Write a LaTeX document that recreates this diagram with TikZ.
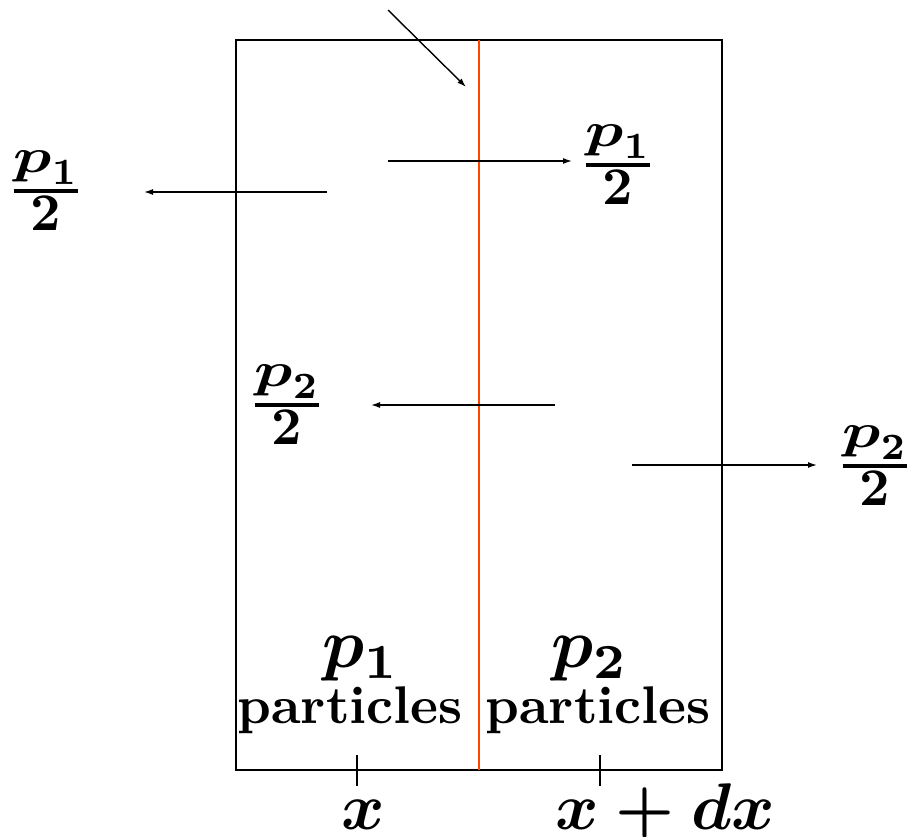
\documentclass[tikz,border=0pt]{standalone}
\usepackage{amsmath}
\usepackage{graphicx}
\usetikzlibrary{arrows.meta}
\definecolor{divred}{RGB}{255,69,0}
\newcommand{\halffrac}[1]{$\genfrac{}{}{0.75pt}{1}{\displaystyle\scalebox{1.2}[0.92]{$p$}_{#1}}{\displaystyle 2}$}
\begin{document}
\begin{tikzpicture}[x=1pt,y=-1pt,
  box/.style={line width=2pt},
  flow/.style={line width=1.4pt,-{Latex[length=9pt,width=6pt]}},
  frac/.style={inner sep=0pt,scale=5.3,font=\boldmath},
  big/.style={inner sep=0pt,scale=7,font=\boldmath},
  axl/.style={inner sep=0pt,scale=6.6,font=\boldmath,anchor=base},
  word/.style={inner sep=0pt,scale=5.3,font=\bfseries}]
\useasboundingbox (0,0) rectangle (907,836);
\draw[box] (236,40) rectangle (722,770);
\draw[line width=2pt,divred] (479,40) -- (479,770);
% ticks
\coordinate (t1a) at (357,755); \coordinate (t1b) at (357,786);
\coordinate (t2a) at (600,755); \coordinate (t2b) at (600,786);
\draw[box] (t1a) -- (t1b);
\draw[box] (t2a) -- (t2b);
% arrows
\coordinate (s0) at (388,10); \coordinate (e0) at (466,87);
\draw[flow] (s0) -- (e0);
\coordinate (s1) at (327,192); \coordinate (e1) at (144,192);
\draw[flow] (s1) -- (e1);
\coordinate (s2) at (388,161); \coordinate (e2) at (572,161);
\draw[flow] (s2) -- (e2);
\coordinate (s3) at (555,405); \coordinate (e3) at (371,405);
\draw[flow] (s3) -- (e3);
\coordinate (s4) at (632,465); \coordinate (e4) at (817,465);
\draw[flow] (s4) -- (e4);
% fraction labels
\node[frac] (f1) at (46,191) {\halffrac{1}};
\node[frac] (f2) at (618,165) {\halffrac{1}};
\node[frac] (f3) at (287,405) {\halffrac{2}};
\node[frac] (f4) at (875,466) {\halffrac{2}};
% box labels
\node[big] (p1) at (361,659) {$p_1$};
\node[big] (p2) at (590,659) {$p_2$};
\node[word] (w1) at (350,710) {particles};
\node[word] (w2) at (598,710) {particles};
\node[axl] (x1) at (363,829) {$x$};
\node[axl] (x2) at (665,829) {$x+dx$};
\end{tikzpicture}
\end{document}
